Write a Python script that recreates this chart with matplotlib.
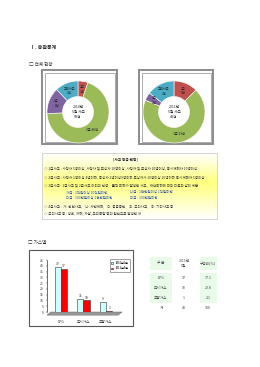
import numpy as np
import matplotlib
matplotlib.use("Agg")
import matplotlib.pyplot as plt
from matplotlib.patches import Rectangle, Polygon

plt.rcParams['font.family'] = ['Noto Sans CJK KR', 'DejaVu Sans']

# ---------------- data ----------------
grades = ['2급', '3급', '4급', '고의사고']
donut_2010 = [3, 40, 8, 7]
donut_2011 = [6, 33, 2, 7]
donut_titles = ['2010년\n5월 사고\n58건', '2011년\n5월 사고\n48건']

gas_types = ['LPG', '도시가스', '고압가스']
gas_2010 = [39, 11, 9]
gas_2011 = [37, 10, 1]
bar_legend = ['2010년5월', '2011년5월']
y_ticks = [0, 5, 10, 15, 20, 25, 30, 35, 40, 45]

table_header = ['구 분', '2011년\n5월', '구성비(%)']
table_rows = [['LPG', '37', '77.1'],
              ['도시가스', '10', '20.8'],
              ['고압가스', '1', '2.1'],
              ['계', '48', '100']]

W, H = 260, 367
fig = plt.figure(figsize=(W / 100, H / 100), dpi=100)
fig.patch.set_facecolor('white')


def px_axes(x0, y0, x1, y1, z=2):
    a = fig.add_axes([x0 / W, 1 - y1 / H, (x1 - x0) / W, (y1 - y0) / H])
    a.set_zorder(z)
    return a


bg = fig.add_axes([0, 0, 1, 1])
bg.set_xlim(0, W)
bg.set_ylim(H, 0)
bg.axis('off')
bg.set_zorder(0)

fg = fig.add_axes([0, 0, 1, 1])
fg.set_xlim(0, W)
fg.set_ylim(H, 0)
fg.axis('off')
fg.set_zorder(20)
fg.patch.set_alpha(0)

tc = '#333333'
# headings
fg.text(30, 47, 'Ⅰ. 총괄통계', fontsize=3.6, color=tc, va='center', ha='left', fontweight='bold')
fg.text(29, 64, '□ 전체 현황', fontsize=3.3, color=tc, va='center', ha='left')
fg.text(28, 242, '□ 가스별', fontsize=3.3, color=tc, va='center', ha='left')

# ---------------- donut boxes ----------------
colors = ['#C0504D', '#9BBB59', '#8064A2', '#4BACC6']
for (x0, x1) in [(42, 117), (139, 213)]:
    bg.add_patch(Rectangle((x0, 70), x1 - x0, 74, fill=False, ec='#8c8c8c', lw=1.4))
    bg.add_patch(Rectangle((x0 + 2.5, 72.5), x1 - x0 - 5, 69, fill=False, ec='#8c8c8c', lw=0.5))

R = 31
for (cx, data, title) in [(78, donut_2010, donut_titles[0]), (174, donut_2011, donut_titles[1])]:
    a = px_axes(cx - R, 112 - R, cx + R, 112 + R, z=3)
    a.pie(data, colors=colors, startangle=90, counterclock=False,
          radius=1.0, wedgeprops=dict(width=0.5, edgecolor='white', linewidth=0.4))
    a.set_xlim(-1.0, 1.0)
    a.set_ylim(-1.0, 1.0)
    a.set_aspect('auto')
    a.axis('off')
    a.text(0, 0, title, ha='center', va='center', fontsize=2.6, color='#222222', linespacing=1.2)
    tot = sum(data)
    cum = 0
    for i, v in enumerate(data):
        mid = 90 - (cum + v / 2) / tot * 360
        cum += v
        r = 0.74
        x, y = r * np.cos(np.radians(mid)), r * np.sin(np.radians(mid))
        if i == 1:
            txt = f'{grades[i]} {v}건'
        else:
            txt = f'{grades[i]}\n{v}건'
        a.text(x, y, txt, ha='center', va='center', fontsize=2.3, color='#222222', linespacing=1.1)

# ---------------- info text box ----------------
tb = px_axes(42, 153, 217, 219, z=2)
grad = np.concatenate([np.linspace(0, 1, 45), np.linspace(1, 0, 55)])
img = np.ones((100, 1, 3))
img[:, 0, 2] = 1 - 0.5 * grad
tb.imshow(img, aspect='auto', extent=[0, 1, 1, 0])
tb.set_xlim(0, 1)
tb.set_ylim(1, 0)
tb.set_xticks([])
tb.set_yticks([])
for s in tb.spines.values():
    s.set_color('#cfcfcf')
    s.set_linewidth(0.6)

fs = 2.5
fg.text(125, 159, '[사고 등급 판정]', fontsize=2.6, color='#222222', ha='center', va='center', fontweight='bold')
lines = [
    (44, 168, '◇ 1급사고 : 사망자 5명이상, 사망자 및 부상자 10명이상, 사망자 및 부상자 10명이상, 동시재해자 10명이상', '#333333'),
    (44, 177, '◇ 2급사고 : 사망자 1명이상 4명이하, 중상자 2명이상9명이하 부상자가 10명이상 20명이하 동시재해자 5명이상', '#333333'),
    (44, 186, '◇ 3급사고 : 1급사고 및 2급사고 이외의 인명 · 물적 피해가 발생한 사고,   재산피해에 따라 다음과 같이 세분', '#333333'),
    (66, 192, '가급 : 1억원이상 10억원미만,', '#3355aa'),
    (130, 192, '나급 : 1천만원이상 1억원미만', '#3355aa'),
    (66, 198, '다급 : 100만원이상 1천만원미만', '#3355aa'),
    (130, 198, '라급 : 100만원미만', '#3355aa'),
    (44, 206, '◇ 4급사고 :  가. 안전사고,    나. 자연재해,    다. 공급중단,    라. 고의사고,    마. 기타사고 등', '#333333'),
    (44, 213, '◇ 고의사고 등 : 방화, 자해, 자살, 고의폭발 등의 원인으로 발생한 것', '#333333'),
]
for x, y, t, c in lines:
    fg.text(x, y, t, fontsize=fs, color=c, ha='left', va='center')

# ---------------- bar chart ----------------
bg.add_patch(Rectangle((28.5, 250), 104.5, 76, fill=False, ec='#555555', lw=0.8))
ax = px_axes(47, 260, 122, 312, z=3)
ax.patch.set_alpha(0)
x = np.arange(len(gas_types))
bw = 0.28
ax.bar(x - bw / 2, gas_2010, bw, color='#CCFFFF', edgecolor='#333333', linewidth=0.4, label=bar_legend[0])
ax.bar(x + bw / 2, gas_2011, bw, color='#FF0000', edgecolor='#333333', linewidth=0.4, label=bar_legend[1])
ax.set_ylim(0, 45)
ax.set_xlim(-0.62, 2.71)
ax.set_yticks(y_ticks)
ax.set_yticklabels([str(t) for t in y_ticks], fontsize=2.4, color='#333333')
ax.tick_params(axis='y', length=1, width=0.3, pad=1.5)
ax.set_xticks(x)
ax.set_xticklabels(gas_types, fontsize=2.6, color='#333333')
ax.tick_params(axis='x', length=0, pad=6)
for s in ['top', 'right', 'bottom']:
    ax.spines[s].set_visible(False)
ax.spines['left'].set_linewidth(0.4)
for xi, v in zip(x - bw / 2, gas_2010):
    ax.text(xi, v + 0.8, str(v), ha='center', va='bottom', fontsize=2.4, color='#222222')
for xi, v in zip(x + bw / 2, gas_2011):
    ax.text(xi, v + 0.8, str(v), ha='center', va='bottom', fontsize=2.4, color='#222222')
floor = Polygon([[0.0, -0.06], [0.95, -0.06], [1.0, 0.0], [0.05, 0.0]], closed=True,
                transform=ax.transAxes, facecolor='#9a9a9a', edgecolor='#555555', lw=0.3,
                zorder=0, clip_on=False)
ax.add_patch(floor)
leg = ax.legend(loc='upper right', bbox_to_anchor=(1.12, 1.04), fontsize=2.0, frameon=True,
                handlelength=0.8, handleheight=0.6, borderpad=0.5, labelspacing=0.6,
                fancybox=False, edgecolor='#333333')
leg.get_frame().set_linewidth(0.4)

# ---------------- table ----------------
shade = '#E8FBE8'
bg.add_patch(Rectangle((150, 257), 22, 13, fc=shade, ec='none'))
bg.add_patch(Rectangle((200, 257), 17, 13, fc=shade, ec='none'))
bg.add_patch(Rectangle((150, 273), 22, 30, fc=shade, ec='none'))
bg.add_patch(Rectangle((200, 273), 17, 30, fc=shade, ec='none'))
col_x = [161, 184, 208]
tfs = 2.6
for cx, t in zip(col_x, table_header):
    fg.text(cx, 263.5, t, ha='center', va='center', fontsize=tfs, color='#444444', linespacing=1.5)
row_y = [278, 288, 298, 308]
for ry, row in zip(row_y, table_rows):
    for cx, t in zip(col_x, row):
        fg.text(cx, ry, t, ha='center', va='center', fontsize=tfs, color='#444444')

fig.savefig('out.png', dpi=100)
